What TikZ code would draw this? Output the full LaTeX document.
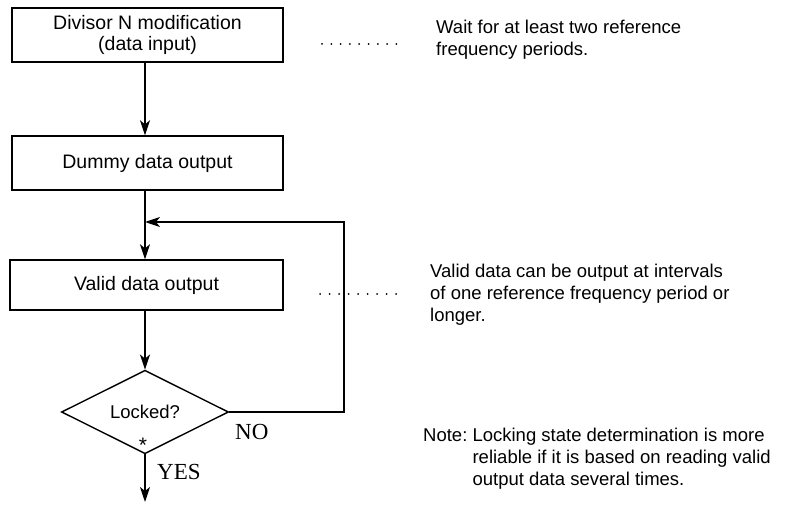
\documentclass[tikz,border=0pt]{standalone}
\usepackage{fontspec}
\setsansfont{Liberation Sans}
\newfontfamily\answerfont{Liberation Serif}
\usetikzlibrary{arrows.meta,positioning,shapes.geometric}
\tikzset{
  stepbox/.style={draw,line width=1.4pt,minimum width=271pt,minimum height=54pt,inner sep=0pt,
    font=\sffamily\fontsize{19.5}{21}\selectfont,align=center},
  notetext/.style={inner sep=0pt,anchor=north west,align=left,font=\sffamily\fontsize{18.5}{22}\selectfont},
  flow/.style={line width=1.4pt,-{Stealth[length=15pt,width=10pt,inset=4pt]}},
  answer/.style={font=\answerfont\fontsize{23}{25}\selectfont}
}

\begin{document}
\begin{tikzpicture}[x=1pt,y=-1pt]
\useasboundingbox (0,0) rectangle (788,513);
% process boxes
\node[stepbox] (modify) at (147.5,35) {Divisor N modification\\(data input)};
\node[stepbox] (dummy) at (147.5,163) {Dummy data output};
\node[stepbox,minimum width=273pt,minimum height=50pt] (valid) at (146.5,285) {Valid data output};
\node[draw,diamond,line width=1.4pt,minimum width=167pt,minimum height=79pt,inner sep=0pt,
  font=\sffamily\fontsize{18.5}{22}\selectfont] (locked) at (145,412) {Locked?};
\node[inner sep=0pt,font=\sffamily\fontsize{21}{21}\selectfont] (star) at (143,445) {*};
\coordinate (join) at (145,222);
\coordinate (exit) at (145,502);
% connectors
\draw[flow] (modify.south -| 145,0) -- (dummy.north -| 145,0);
\draw[flow] (dummy.south -| 145,0) -- (valid.north -| 145,0);
\draw[flow] (valid.south -| 145,0) -- (locked.north);
\draw[flow] (locked.east) -- (344,412) -- (344,222) -- (join);
\draw[flow] (locked.south) -- (exit);
\node[answer,anchor=west,inner sep=0pt] (no) at (235,432) {NO};
\node[answer,anchor=west,inner sep=0pt] (yes) at (157,472) {YES};
% dotted leaders
\foreach \i in {0,...,8}{
  \fill (322+9.3*\i,44) circle (1pt);
  \fill (320+9.5*\i,294) circle (1pt);
}
% notes
\node[notetext] (wait) at (436,20) {Wait for at least two reference\\frequency periods.};
\node[notetext] (interval) at (430,264) {Valid data can be output at intervals\\of one reference frequency period or\\longer.};
\node[notetext] (note) at (423,426) {\begin{tabular}{@{}l@{\ }l@{}}Note: & Locking state determination is more\\
 & reliable if it is based on reading valid\\ & output data several times.\end{tabular}};
\end{tikzpicture}
\end{document}
